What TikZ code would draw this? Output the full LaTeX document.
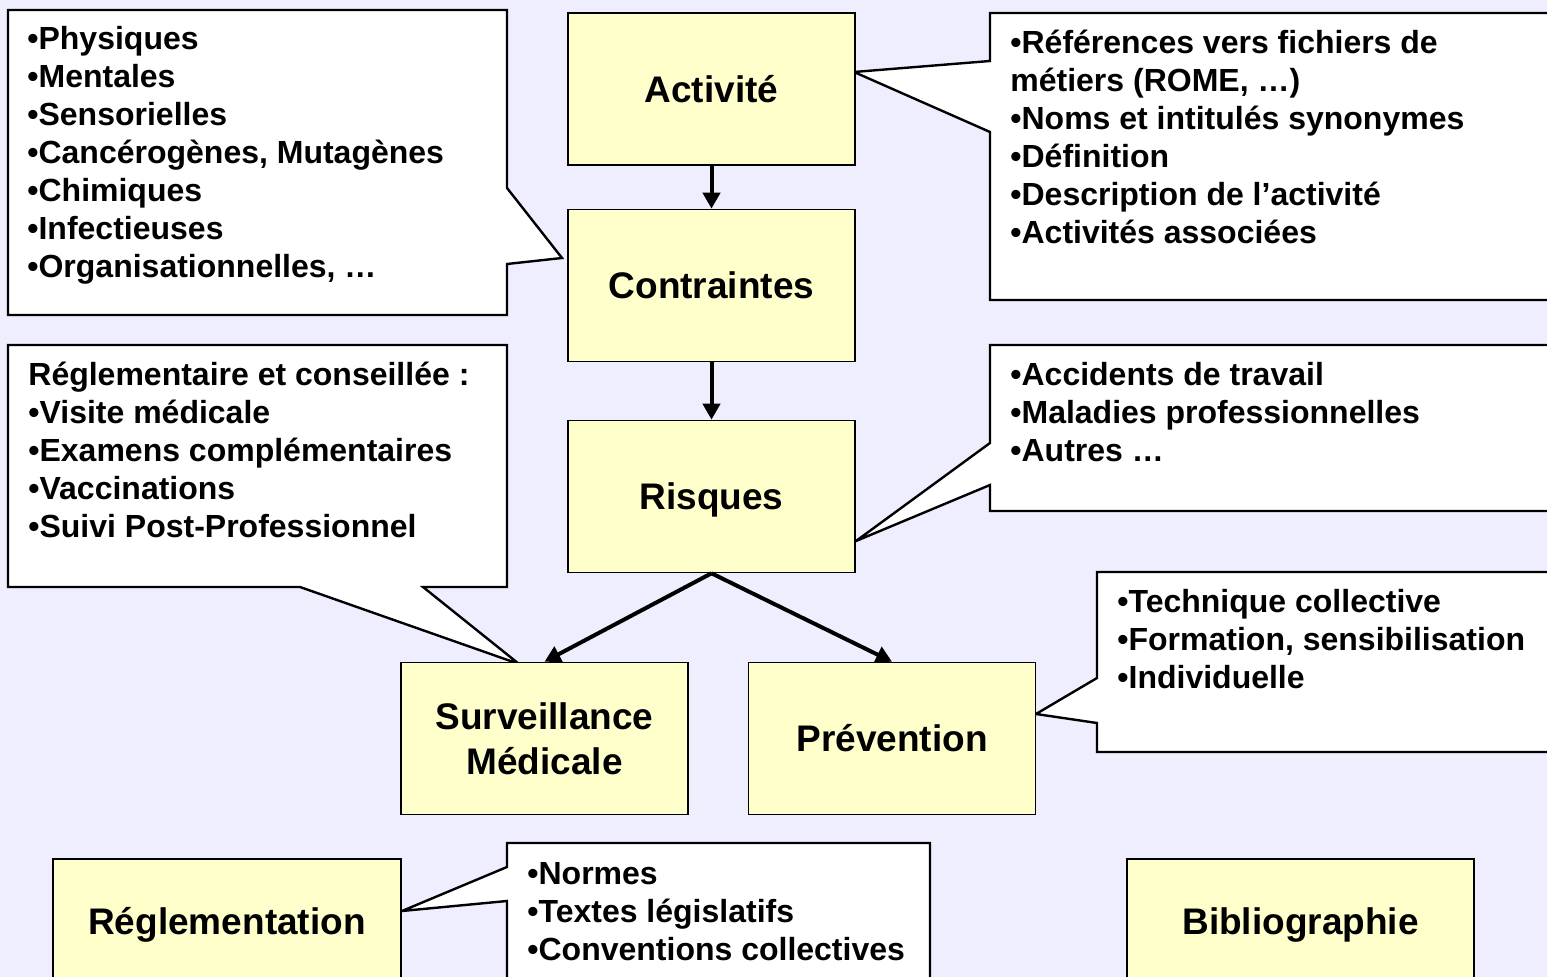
\documentclass[tikz,border=0pt]{standalone}
\usepackage{fontspec}
\setmainfont{Liberation Sans}
\usetikzlibrary{arrows.meta}
\definecolor{bglav}{RGB}{238,238,255}
\definecolor{boxyellow}{RGB}{255,255,204}

\begin{document}
\begin{tikzpicture}[x=0.5pt,y=-0.5pt,
    box/.style={draw,fill=boxyellow,line width=0.8pt,minimum width=143.5pt,minimum height=76pt,align=center,font=\fontsize{18.5}{22.5}\selectfont\bfseries},
    callout/.style={draw,fill=white,line width=1.2pt,line join=miter},
    calltext/.style={anchor=north west,inner sep=0pt,align=left,font=\fontsize{16}{19}\selectfont\bfseries},
    flow/.style={line width=2pt,-{Triangle[length=8pt,width=8.5pt]}}]

    \useasboundingbox (0,0) rectangle (1547,977);
    \clip (0,0) rectangle (1547,977);
    \fill[bglav] (0,0) rectangle (1547,977);

    % callouts
    \draw[callout] (8,10) -- (507,10) -- (507,188) -- (562,258) -- (507,264) -- (507,315) -- (8,315) -- cycle;
    \draw[callout] (990,13) -- (1560,13) -- (1560,300) -- (990,300) -- (990,132) -- (854,72) -- (990,61) -- cycle;
    \draw[callout] (8,345) -- (507,345) -- (507,587) -- (423,587) -- (519,664) -- (300,587) -- (8,587) -- cycle;
    \draw[callout] (990,345) -- (1560,345) -- (1560,511) -- (990,511) -- (990,485) -- (856,541) -- (990,443) -- cycle;
    \draw[callout] (1097,572) -- (1560,572) -- (1560,752) -- (1097,752) -- (1097,723) -- (1036,714) -- (1097,678) -- cycle;
    \draw[callout] (507,843) -- (930,843) -- (930,990) -- (507,990) -- (507,901) -- (402,911) -- (507,867) -- cycle;

    \node[calltext] (contr-list) at (27,26) {•Physiques\\•Mentales\\•Sensorielles\\•Cancérogènes, Mutagènes\\•Chimiques\\•Infectieuses\\•Organisationnelles, …};
    \node[calltext] (activ-list) at (1010,30) {•Références vers fichiers de\\métiers (ROME, …)\\•Noms et intitulés synonymes\\•Définition\\•Description de l’activité\\•Activités associées};
    \node[calltext] (surv-list) at (28,362) {Réglementaire et conseillée :\\•Visite médicale\\•Examens complémentaires\\•Vaccinations\\•Suivi Post-Professionnel};
    \node[calltext] (risq-list) at (1010,362) {•Accidents de travail\\•Maladies professionnelles\\•Autres …};
    \node[calltext] (prev-list) at (1117,589) {•Technique collective\\•Formation, sensibilisation\\•Individuelle};
    \node[calltext] (regl-list) at (527,862) {•Normes\\•Textes législatifs\\•Conventions collectives};

    % boxes
    \node[box] (activite) at (711.5,89) {Activité};
    \node[box] (contraintes) at (711.5,285.5) {Contraintes};
    \node[box,text depth=0pt] (risques) at (711.5,496.5) {Risques};
    \node[box] (surveillance) at (544.5,738.5) {Surveillance\\Médicale};
    \node[box] (prevention) at (892,738.5) {Prévention};
    \node[box,text depth=0pt,minimum width=174pt,minimum height=62pt] (reglementation) at (227,921) {Réglementation};
    \node[box,text depth=0pt,minimum width=173.5pt,minimum height=62pt] (biblio) at (1300.5,921) {Bibliographie};

    \draw[flow] (activite) -- (contraintes);
    \draw[flow] (contraintes) -- (risques);
    \draw[flow] (risques.south) -- (surveillance.north);
    \draw[flow] (risques.south) -- (prevention.north);

\end{tikzpicture}
\end{document}
